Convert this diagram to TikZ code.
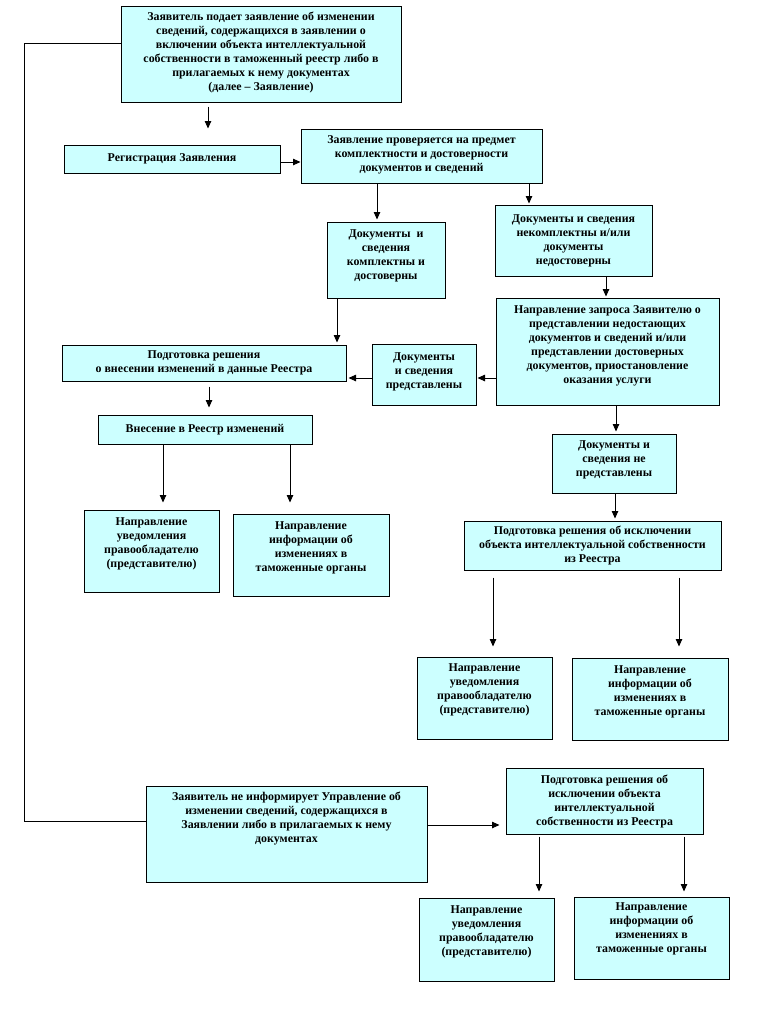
\documentclass[tikz,border=0pt]{standalone}
\usepackage{fontspec}
\setmainfont{Liberation Serif}
\usetikzlibrary{arrows.meta,calc}
\definecolor{boxfill}{RGB}{204,255,255}
\tikzset{
  box/.style={draw=black, line width=1pt, fill=boxfill, inner sep=0pt},
  txt/.style={align=center, font=\fontsize{11.9}{14}\selectfont\bfseries, inner sep=0pt},
  arr/.style={draw=black, line width=0.8pt, -{Triangle[width=6.5pt,length=7.5pt]}},
  ln/.style={draw=black, line width=0.8pt}
}
\newcommand\bx[7]{%
  \node[box, minimum width=#4pt, minimum height=#5pt] (#1) at (#2,#3) {};
  \node[txt] (#1t) at ([yshift=#6pt]#1.center) {#7};}
\begin{document}
\begin{tikzpicture}[x=1pt,y=-1pt]
\useasboundingbox (0,0) rectangle (756,1013);
\bx{b1}{261}{54}{280}{96}{1}{Заявитель подает заявление об изменении\\сведений, содержащихся в заявлении о\\включении объекта интеллектуальной\\собственности в таможенный реестр либо в\\прилагаемых к нему документах\\(далее -- Заявление)}
\bx{reg}{172}{159}{216}{28}{0}{Регистрация Заявления}
\bx{chk}{421.5}{156}{241}{54}{1}{Заявление проверяется на предмет\\комплектности и достоверности\\документов и сведений}
\bx{cmp}{386}{260}{118}{76}{4}{Документы \ и\\сведения\\комплектны и\\достоверны}
\bx{inc}{573.5}{240.5}{157}{71}{0}{Документы и сведения\\некомплектны и/или\\документы\\недостоверны}
\bx{req}{607.5}{351.5}{223}{107}{6}{Направление запроса Заявителю о\\представлении недостающих\\документов и сведений и/или\\представлении достоверных\\документов, приостановление\\оказания услуги}
\bx{prep}{204}{363}{284}{36}{0}{Подготовка решения\\о внесении изменений в данные Реестра}
\bx{prs}{424}{374.5}{104}{61}{3}{Документы\\и сведения\\представлены}
\bx{ent}{205}{429.5}{214}{29}{0}{Внесение в Реестр изменений}
\bx{n1}{151.5}{551}{135}{82}{7}{Направление\\уведомления\\правообладателю\\(представителю)}
\bx{i1}{311}{555}{156}{82}{7}{Направление\\информации об\\изменениях в\\таможенные органы}
\bx{np}{614}{463.5}{124}{59}{4}{Документы и\\сведения не\\представлены}
\bx{ex1}{592.5}{545.5}{257}{49}{0}{Подготовка решения об исключении\\объекта интеллектуальной собственности\\из Реестра}
\bx{n2}{484.5}{698}{135}{82}{8}{Направление\\уведомления\\правообладателю\\(представителю)}
\bx{i2}{650}{699}{156}{82}{7}{Направление\\информации об\\изменениях в\\таможенные органы}
\bx{ni}{286.5}{834}{281}{96}{15}{Заявитель не информирует Управление об\\изменении сведений, содержащихся в\\Заявлении либо в прилагаемых к нему\\документах}
\bx{ex2}{604.5}{801}{197}{66}{0}{Подготовка решения об\\исключении объекта\\интеллектуальной\\собственности из Реестра}
\bx{n3}{486.5}{939.5}{135}{83}{8}{Направление\\уведомления\\правообладателю\\(представителю)}
\bx{i3}{651.5}{938}{155}{82}{9}{Направление\\информации об\\изменениях в\\таможенные органы}
\coordinate (lx) at (24,0);
% arrows
\draw[arr, shorten <=4pt, shorten >=16pt] ([xshift=-53pt]b1.south) -- ([xshift=-53pt]b1.south |- reg.north);
\draw[arr] ([yshift=-3pt]reg.east) -- ([yshift=-3pt]reg.east -| chk.west);
\draw[arr, shorten >=2pt] ([xshift=-44.5pt]chk.south) -- ([xshift=-44.5pt]chk.south |- cmp.north);
\draw[arr, shorten >=1pt] ([xshift=107.5pt]chk.south) -- ([xshift=107.5pt]chk.south |- inc.north);
\draw[arr, shorten >=1pt] ([xshift=32.5pt]inc.south) -- ([xshift=32.5pt]inc.south |- req.north);
\draw[arr, shorten >=2pt] ([xshift=-49pt]cmp.south) -- ([xshift=-49pt]cmp.south |- prep.north);
\draw[arr, shorten >=1pt] ([yshift=-26.5pt]req.west) -- ([yshift=-26.5pt]req.west -| prs.east);
\draw[arr, shorten >=2pt] ([yshift=-3.5pt]prs.west) -- ([yshift=-3.5pt]prs.west -| prep.east);
\draw[arr, shorten <=5pt, shorten >=7pt] ([xshift=5pt]prep.south) -- ([xshift=5pt]prep.south |- ent.north);
\draw[arr, shorten >=7pt] ([xshift=-42pt]ent.south) -- ([xshift=-42pt]ent.south |- n1.north);
\draw[arr, shorten >=11pt] ([xshift=85pt]ent.south) -- ([xshift=85pt]ent.south |- i1.north);
\draw[arr, shorten >=2pt] ([xshift=8.5pt]req.south) -- ([xshift=8.5pt]req.south |- np.north);
\draw[arr, shorten >=2pt] ([xshift=1pt]np.south) -- ([xshift=1pt]np.south |- ex1.north);
\draw[arr, shorten <=7pt, shorten >=10pt] ([xshift=-99.5pt]ex1.south) -- ([xshift=-99.5pt]ex1.south |- n2.north);
\draw[arr, shorten <=7pt, shorten >=11pt] ([xshift=86.5pt]ex1.south) -- ([xshift=86.5pt]ex1.south |- i2.north);
\draw[ln] ([yshift=11pt]b1.west) -- ([yshift=11pt]b1.west -| lx) -- ([yshift=13pt]ni.west -| lx) -- ([yshift=13pt]ni.west);
\draw[arr, shorten >=6pt] ([yshift=9pt]ni.east) -- ([yshift=9pt]ni.east -| ex2.west);
\draw[arr, shorten <=2pt, shorten >=6pt] ([xshift=-65.5pt]ex2.south) -- ([xshift=-65.5pt]ex2.south |- n3.north);
\draw[arr, shorten <=2pt, shorten >=5pt] ([xshift=79.5pt]ex2.south) -- ([xshift=79.5pt]ex2.south |- i3.north);
\end{tikzpicture}
\end{document}
